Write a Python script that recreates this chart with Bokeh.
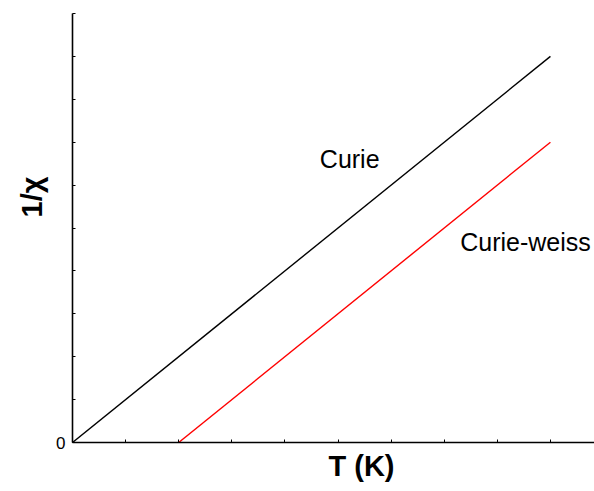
from bokeh.plotting import figure
from bokeh.models import Range1d, FixedTicker, Label, Title
from bokeh.embed import file_html
from bokeh.resources import INLINE

# Inverse susceptibility vs temperature (arbitrary units)
T_curie = [0, 9]
inv_chi_curie = [0, 9]
T_cw = [2, 9]
inv_chi_cw = [0, 7]

x_ticks = [0, 1, 2, 3, 4, 5, 6, 7, 8, 9]
y_ticks = [0, 1, 2, 3, 4, 5, 6, 7, 8, 9, 10]

FONT = "Liberation Sans"

p = figure(width=594, height=491, output_backend="svg", toolbar_location=None,
           x_range=Range1d(0, 9.83), y_range=Range1d(0, 10),
           min_border_left=72, min_border_right=0, min_border_top=13, min_border_bottom=49)
p.outline_line_color = None
p.xgrid.visible = False
p.ygrid.visible = False
p.background_fill_color = "white"
p.border_fill_color = "white"

for ax in (p.xaxis[0], p.yaxis[0]):
    ax.axis_line_width = 1.6
    ax.axis_line_color = "black"
    ax.major_tick_in = 3
    ax.major_tick_out = 0
    ax.major_tick_line_width = 1
    ax.minor_tick_line_color = None

p.xaxis.ticker = FixedTicker(ticks=x_ticks)
p.xaxis.major_label_text_font_size = "0px"
p.xaxis.major_label_overrides = {t: "" for t in x_ticks}

p.yaxis.ticker = FixedTicker(ticks=y_ticks)
p.yaxis.major_label_overrides = {t: ("0" if t == 0 else "") for t in y_ticks}
p.yaxis.major_label_text_font = FONT
p.yaxis.major_label_text_font_size = "17px"
p.yaxis.major_label_text_color = "black"
p.yaxis.major_label_standoff = 7

p.line(T_curie, inv_chi_curie, line_color="black", line_width=1.4)
p.line(T_cw, inv_chi_cw, line_color="red", line_width=1.4)

p.add_layout(Label(x=5.22, y=6.62, text="Curie", text_font=FONT, text_font_size="25px",
                   text_align="center", text_baseline="alphabetic", text_color="black"))
p.add_layout(Label(x=8.53, y=4.68, text="Curie-weiss", text_font=FONT, text_font_size="25px",
                   text_align="center", text_baseline="alphabetic", text_color="black"))

# Axis titles, placed as side titles so they can sit off-centre
p.add_layout(Title(text="T (K)", text_font=FONT, text_font_size="29px", text_font_style="bold",
                   align="left", offset=256, standoff=10, text_color="black"), "below")
p.add_layout(Title(text="1/χ", text_font=FONT, text_font_size="29px", text_font_style="bold",
                   align="left", offset=225, standoff=12, text_color="black"), "left")

open("out.html", "w").write(file_html(p, INLINE))
